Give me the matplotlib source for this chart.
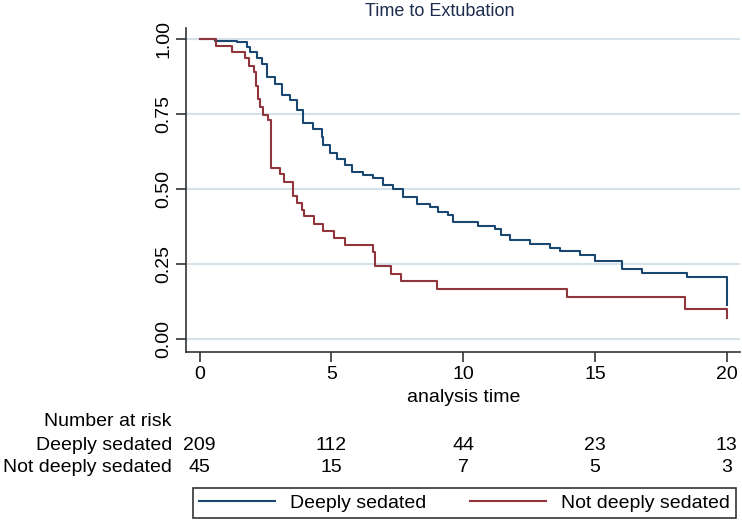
import matplotlib
matplotlib.use("Agg")
import matplotlib.pyplot as plt
import matplotlib.transforms as mtransforms

plt.rcParams['font.family'] = ['Liberation Sans', 'DejaVu Sans']

# Kaplan-Meier estimates
deep_t = [0, 0.58, 1.42, 1.78, 1.91, 2.16, 2.35, 2.54, 2.85, 3.11, 3.42, 3.68, 3.93,
          4.31, 4.63, 4.69, 4.94, 5.20, 5.51, 5.76, 6.20, 6.58, 6.96, 7.34, 7.72,
          8.23, 8.74, 9.05, 9.43, 9.62, 10.57, 11.20, 11.43, 11.77, 12.53, 13.29,
          13.67, 14.43, 15.0, 16.01, 16.79, 18.48, 20.02]
deep_s = [1.0, 0.995, 0.99, 0.974, 0.958, 0.936, 0.916, 0.874, 0.852, 0.813, 0.797,
          0.763, 0.719, 0.702, 0.674, 0.647, 0.619, 0.602, 0.58, 0.558, 0.547, 0.536,
          0.513, 0.502, 0.474, 0.452, 0.441, 0.424, 0.413, 0.39, 0.378, 0.367, 0.347,
          0.329, 0.316, 0.304, 0.294, 0.282, 0.26, 0.233, 0.219, 0.206, 0.113]

notdeep_t = [0, 0.61, 1.21, 1.72, 1.88, 2.06, 2.13, 2.22, 2.30, 2.42, 2.58, 2.70,
             3.04, 3.21, 3.53, 3.70, 3.87, 3.95, 4.33, 4.69, 5.11, 5.51, 6.56, 6.67,
             7.26, 7.62, 9.0, 13.94, 18.41, 20.02]
notdeep_s = [1.0, 0.978, 0.956, 0.936, 0.911, 0.889, 0.844, 0.80, 0.774, 0.747, 0.730,
             0.571, 0.551, 0.524, 0.478, 0.455, 0.431, 0.41, 0.385, 0.36, 0.336, 0.313,
             0.289, 0.243, 0.218, 0.194, 0.168, 0.141, 0.102, 0.069]

risk_times = [0, 5, 10, 15, 20]
risk_deep = [209, 112, 44, 23, 13]
risk_notdeep = [45, 15, 7, 5, 3]

yticks = [0, 0.25, 0.5, 0.75, 1.0]
yticklabels = ['0.00', '0.25', '0.50', '0.75', '1.00']

blue = '#1a476f'
red = '#90353b'
grid_col = '#d6e2e9'

fig = plt.figure(figsize=(7.42, 5.25), dpi=100)
ax = fig.add_axes([186 / 742, 173.3 / 525, 554 / 742, 323.7 / 525])

ax.step(deep_t, deep_s, where='post', color=blue, lw=1.5, label='Deeply sedated')
ax.step(notdeep_t, notdeep_s, where='post', color=red, lw=1.5, label='Not deeply sedated')

ax.set_xlim(-0.52, 20.5)
ax.set_ylim(-0.042, 1.037)
ax.set_yticks(yticks)
ax.set_yticklabels(yticklabels, rotation=90, va='center')
ax.set_xticks(risk_times)
ax.grid(axis='y', color=grid_col, lw=1.5)
ax.set_axisbelow(True)
for s in ['top', 'right']:
    ax.spines[s].set_visible(False)
for s in ['left', 'bottom']:
    ax.spines[s].set_color('#333333')
    ax.spines[s].set_linewidth(1.2)
ax.tick_params(axis='both', length=7, width=1.2, color='#333333', labelsize=14, pad=3)

fig.text(440 / 742, 1 - 11 / 525, 'Time to Extubation', ha='center', va='center',
         fontsize=13, color='#1e2d4f')

# x-axis title and number-at-risk table
trans = mtransforms.blended_transform_factory(ax.transData, fig.transFigure)
ax.text(10, 1 - 397 / 525, 'analysis time', transform=trans, ha='center', va='center',
        fontsize=14)
lab_x = 172 / 742
fig.text(lab_x, 1 - 421 / 525, 'Number at risk', ha='right', va='center', fontsize=14)
fig.text(lab_x, 1 - 445 / 525, 'Deeply sedated', ha='right', va='center', fontsize=14)
fig.text(lab_x, 1 - 467 / 525, 'Not deeply sedated', ha='right', va='center', fontsize=14)
for t, a, b in zip(risk_times, risk_deep, risk_notdeep):
    ax.text(t, 1 - 445 / 525, str(a), transform=trans, ha='center', va='center', fontsize=14)
    ax.text(t, 1 - 467 / 525, str(b), transform=trans, ha='center', va='center', fontsize=14)

leg = fig.legend(loc='center', bbox_to_anchor=(193 / 742, 3 / 525, 543 / 742, 38 / 525),
                 mode='expand', ncol=2, fontsize=14, frameon=True, fancybox=False,
                 edgecolor='black', handlelength=3.9, borderaxespad=0, borderpad=0.3)
leg.get_frame().set_linewidth(1.2)

fig.savefig('out.png', dpi=100)
